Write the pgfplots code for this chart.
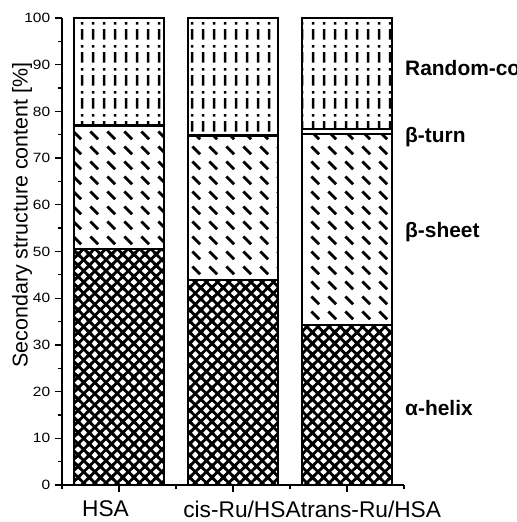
\documentclass[border=0pt]{standalone}
\usepackage{fontspec}
\setmainfont{Liberation Sans}
\usepackage{pgfplots}
\pgfplotsset{compat=1.18}
\usetikzlibrary{patterns,patterns.meta,calc}

% cross-hatch for alpha-helix
\tikzdeclarepattern{
  name=helixhatch, type=uncolored,
  bounding box={(-3pt,-3pt) and (14.2pt,14.2pt)},
  tile size={(11.2pt,11.2pt)},
  code={\draw[line width=2.8pt] (-3pt,-3pt) -- (14.2pt,14.2pt) (-3pt,14.2pt) -- (14.2pt,-3pt);}
}
% dashes for beta-sheet
\tikzdeclarepattern{
  name=sheetdash, type=uncolored,
  bounding box={(0,0) and (17.5pt,15.4pt)},
  tile size={(17.5pt,15.4pt)},
  code={\draw[line width=3pt] (4.5pt,12pt) -- (12.5pt,4pt);}
}
% dash-dot columns for random coil
\tikzdeclarepattern{
  name=coildashdot, type=uncolored,
  bounding box={(0,0) and (11.2pt,23pt)},
  tile size={(11.2pt,23pt)},
  code={\draw[line width=2.6pt] (5.6pt,1.5pt) -- (5.6pt,12pt) (5.6pt,16.5pt) -- (5.6pt,19pt);}
}

\begin{document}
\begin{tikzpicture}
\begin{axis}[
  scale only axis, width=342bp, height=467bp,
  xmin=0.5, xmax=3.5, ymin=0, ymax=100,
  enlargelimits=false, clip=false,
  axis lines*=left,
  axis line style={line width=1.5bp},
  tick style={line width=1.3bp, black},
  tick align=outside,
  major tick length=7bp, minor tick length=4bp,
  xtick={1,2,3}, minor xtick={0.5,1.5,2.5,3.5},
  xticklabels={\hspace{-27bp}HSA, \hspace{18bp}cis-Ru/HSA, \hspace{48bp}trans-Ru/HSA},
  ytick={0,10,...,100}, minor ytick={5,15,...,95},
  /pgf/number format/assume math mode=true,
  yticklabel style={font=\fontsize{13.5}{16}\selectfont, xscale=1.15, inner sep=0pt, xshift=-4bp},
  xticklabel style={font=\fontsize{22.8}{27}\selectfont, inner sep=0pt, yshift=-8.5bp},
  ylabel={Secondary structure content [\%]},
  ylabel style={at={([xshift=-50bp]axis description cs:0,0.578)}, anchor=north,
                font=\fontsize{21.5}{26}\selectfont, inner sep=0pt},
  ybar stacked, bar width=0.79,
  every axis plot/.append style={draw=black, line width=2.2bp, pattern color=black},
]
\addplot[pattern=helixhatch]
  coordinates {(1,50.5)(2,43.9)(3,34.3)};
\addplot[pattern=sheetdash]
  coordinates {(1,26.3)(2,30.8)(3,40.8)};
\addplot[fill=white]
  coordinates {(1,0.3)(2,0.3)(3,1.1)};
\addplot[pattern=coildashdot]
  coordinates {(1,22.9)(2,25.0)(3,23.8)};
\coordinate (O) at (axis cs:0.5,0);
\node[anchor=west, font=\bfseries\fontsize{21}{25}\selectfont, inner sep=1pt] at (axis cs:3.5,89.3) {Random-coil};
\node[anchor=west, font=\bfseries\fontsize{21}{25}\selectfont, inner sep=1pt] at (axis cs:3.5,74.5) {β-turn};
\node[anchor=west, font=\bfseries\fontsize{21}{25}\selectfont, inner sep=1pt] at (axis cs:3.5,54.2) {β-sheet};
\node[anchor=west, font=\bfseries\fontsize{21}{25}\selectfont, inner sep=1pt] at (axis cs:3.5,16.5) {α-helix};
\end{axis}
\pgfresetboundingbox
\path[use as bounding box] ($(O)+(-62bp,-37bp)$) rectangle ($(O)+(455bp,485bp)$);
\end{tikzpicture}
\end{document}
